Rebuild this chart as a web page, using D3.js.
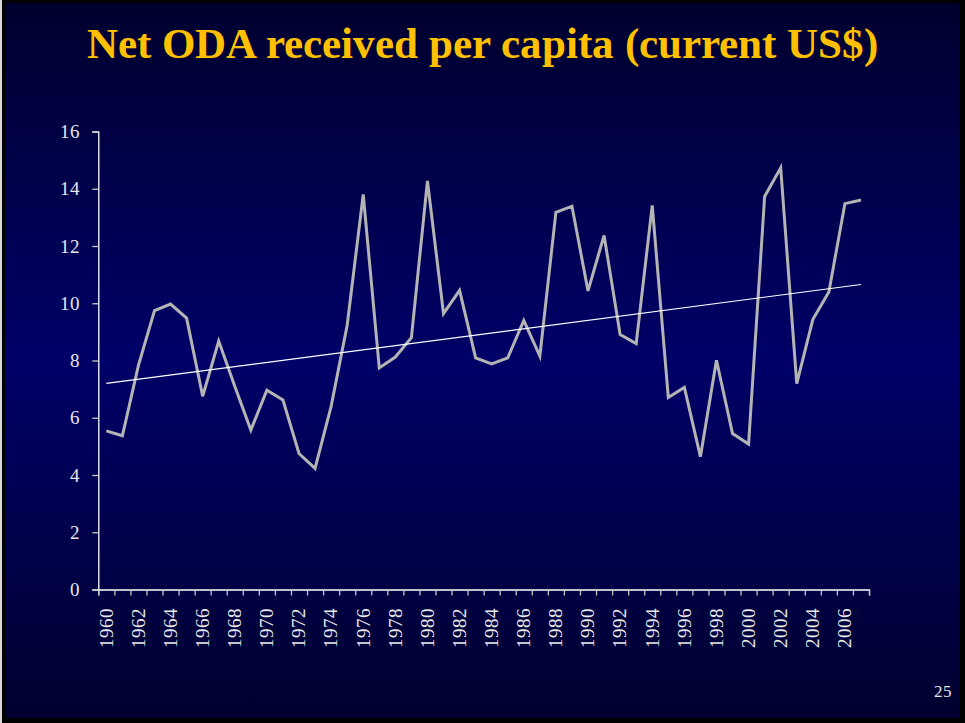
<!DOCTYPE html>
<html>
<head>
<meta charset="utf-8">
<script src="https://cdn.jsdelivr.net/npm/d3@7"></script>
<style>
  @font-face { font-family: "SlideSerif"; font-weight: 400;
    src: local("Liberation Serif"), local("LiberationSerif"), local("Tinos"), local("DejaVu Serif"), local("DejaVuSerif"), local("Noto Serif"); }
  @font-face { font-family: "SlideSerif"; font-weight: 700;
    src: local("Liberation Serif Bold"), local("LiberationSerif-Bold"), local("Tinos Bold"), local("DejaVu Serif Bold"), local("DejaVuSerif-Bold"), local("Noto Serif Bold"); }
  html, body { margin: 0; padding: 0; background: #000; }
  svg { display: block; }
  svg text { font-family: "SlideSerif", "Liberation Serif", "Times New Roman", "DejaVu Serif", serif; }
</style>
</head>
<body>
<svg id="chart" width="965" height="723"></svg>
<script>
const title = "Net ODA received per capita (current US$)";
const pageNumber = "25";
const years = d3.range(1960, 2008);
const odaPerCapita = [
  5.54, 5.37, 7.83, 9.74, 9.97, 9.48, 6.75, 8.68, 7.10, 5.57,
  6.96, 6.62, 4.75, 4.23, 6.40, 9.23, 13.80, 7.74, 8.12, 8.80,
  14.27, 9.64, 10.45, 8.09, 7.88, 8.09, 9.40, 8.15, 13.18, 13.39,
  10.43, 12.37, 8.91, 8.59, 13.42, 6.71, 7.06, 4.64, 8.01, 5.45,
  5.08, 13.73, 14.73, 7.19, 9.43, 10.39, 13.48, 13.61
];
const yTicks = [0, 2, 4, 6, 8, 10, 12, 14, 16];
const xLabelYears = years.filter(y => y % 2 === 0);

(function () {
const svg = d3.select("#chart");
const W = 965, H = 723;

// background
const defs = svg.append("defs");
const grad = defs.append("linearGradient").attr("id", "bg")
  .attr("x1", 0).attr("y1", 0).attr("x2", 0).attr("y2", 1);
grad.append("stop").attr("offset", "0%").attr("stop-color", "#00002e");
grad.append("stop").attr("offset", "50%").attr("stop-color", "#000068");
grad.append("stop").attr("offset", "100%").attr("stop-color", "#00002e");

svg.append("rect").attr("x", 0).attr("y", 0).attr("width", W).attr("height", H).attr("fill", "#000");
svg.append("rect").attr("x", 0).attr("y", 0).attr("width", 2).attr("height", H).attr("fill", "#d8d8d8");
svg.append("rect").attr("x", 5).attr("y", 3).attr("width", 955).attr("height", 715).attr("fill", "url(#bg)");

// title
svg.append("text")
  .attr("x", 482).attr("y", 58)
  .attr("text-anchor", "middle")
  .style("font-weight", "bold")
  .style("font-size", "43px")
  .attr("fill", "#ffc000")
  .text(title);

// scales
const pLeft = 98.3, pRight = 869, pTop = 131.5, pBottom = 589.5;
const x = d3.scaleBand().domain(years).range([pLeft, pRight]).padding(0);
const xEdge = d3.scaleLinear().domain([0, years.length]).range([pLeft, pRight]);
const y = d3.scaleLinear().domain([0, 16]).range([pBottom, pTop]);
const cx = d => x(d) + x.bandwidth() / 2;

// y axis
const yAxis = svg.append("g").attr("transform", `translate(${pLeft},0)`)
  .call(d3.axisLeft(y).tickValues(yTicks).tickSize(6).tickPadding(12).tickFormat(d3.format("d")));
yAxis.attr("font-family", null).attr("font-size", null);
yAxis.select(".domain").attr("stroke", "#ffffff").attr("stroke-width", 1.3);
yAxis.selectAll(".tick line").attr("stroke", "#c8c8c8").attr("stroke-width", 1.3);
yAxis.selectAll(".tick text")
  .attr("fill", "#e8e8e8").style("font-size", "19px");

// x axis ticks at category boundaries
const xAxis = svg.append("g").attr("transform", `translate(0,${pBottom})`)
  .call(d3.axisBottom(xEdge).tickValues(d3.range(years.length + 1)).tickSize(6).tickFormat(""));
xAxis.select(".domain").attr("stroke", "#ffffff").attr("stroke-width", 1.3);
xAxis.selectAll(".tick line").attr("stroke", "#c8c8c8").attr("stroke-width", 1.3);

// x labels
const xLab = svg.append("g").attr("transform", `translate(0,${pBottom})`)
  .call(d3.axisBottom(x).tickValues(xLabelYears).tickSize(0).tickFormat(d3.format("d")));
xLab.attr("font-family", null).attr("font-size", null);
xLab.select(".domain").remove();
xLab.selectAll(".tick text")
  .attr("fill", "#e8e8e8").style("font-size", "19px")
  .attr("transform", "rotate(-90)")
  .attr("text-anchor", "end")
  .attr("x", -18).attr("y", 0).attr("dy", "0.33em");

// data line
const pts = years.map((yr, i) => [yr, odaPerCapita[i]]);
svg.append("path")
  .datum(pts)
  .attr("fill", "none")
  .attr("stroke", "#b4b4b4")
  .attr("stroke-width", 3)
  .attr("stroke-linejoin", "miter")
  .attr("d", d3.line().x(d => cx(d[0])).y(d => y(d[1])));

// linear trend (least squares)
const n = pts.length;
const mx = d3.mean(pts, d => d[0]), my = d3.mean(pts, d => d[1]);
const slope = d3.sum(pts, d => (d[0] - mx) * (d[1] - my)) / d3.sum(pts, d => (d[0] - mx) ** 2);
const icpt = my - slope * mx;
const trend = [years[0], years[n - 1]].map(yr => [yr, icpt + slope * yr]);
svg.append("path")
  .datum(trend)
  .attr("fill", "none")
  .attr("stroke", "#ffffff")
  .attr("stroke-width", 1.2)
  .attr("d", d3.line().x(d => cx(d[0])).y(d => y(d[1])));

// page number
svg.append("text")
  .attr("x", 952).attr("y", 697)
  .attr("text-anchor", "end")
  .style("font-size", "17px")
  .attr("fill", "#e8e8e8")
  .text(pageNumber);
})();
</script>
</body>
</html>
